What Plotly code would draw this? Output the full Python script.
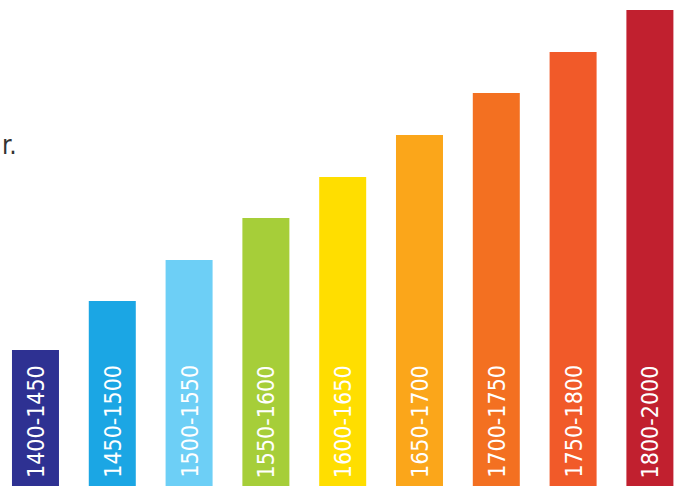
import plotly.graph_objects as go

periods = ["1400-1450", "1450-1500", "1500-1550", "1550-1600", "1600-1650",
           "1650-1700", "1700-1750", "1750-1800", "1800-2000"]
values = [136, 185, 226, 268, 309, 351, 393, 434, 476]
colors = ["#2E3192", "#1BA6E4", "#6DCFF6", "#A6CE39", "#FFDE00",
          "#FBA61A", "#F37021", "#F15A29", "#C1202F"]

x_idx = list(range(len(periods)))

fig = go.Figure()
fig.add_trace(go.Bar(
    x=x_idx, y=values,
    marker=dict(color=colors, line=dict(width=0)),
    hoverinfo="skip",
))

for i, p in enumerate(periods):
    fig.add_annotation(
        x=i, y=0, xref="x", yref="y",
        text=p, textangle=-90, showarrow=False,
        xanchor="center", yanchor="bottom", yshift=6,
        font=dict(family="Liberation Sans Narrow, DejaVu Sans Condensed, Arial Narrow, sans-serif",
                  size=23, color="white"),
    )

fig.add_annotation(
    x=0, y=341, xref="paper", yref="y",
    text="r.", showarrow=False, xanchor="left", yanchor="middle", xshift=0,
    font=dict(family="Liberation Sans Narrow, DejaVu Sans Condensed, sans-serif",
              size=26, color="#333333"),
)

fig.update_layout(
    width=684, height=486,
    margin=dict(l=0, r=0, t=0, b=0),
    paper_bgcolor="white", plot_bgcolor="white",
    bargap=0.388,
    showlegend=False,
    xaxis=dict(range=[-0.462, 8.444], visible=False, fixedrange=True),
    yaxis=dict(range=[0, 486], visible=False, fixedrange=True),
)

fig.write_html("out.html", config={"displayModeBar": False})
